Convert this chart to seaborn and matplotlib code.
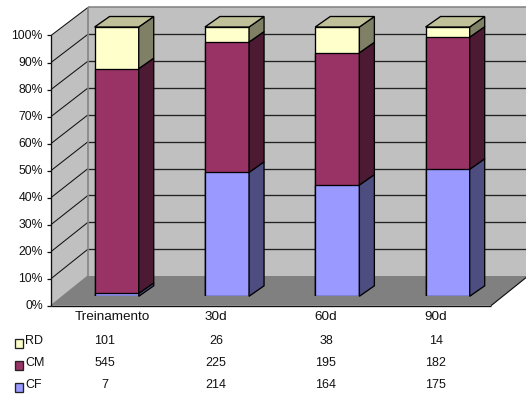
import matplotlib
matplotlib.use("Agg")
import matplotlib.pyplot as plt
from matplotlib.patches import Polygon, Rectangle
import numpy as np
import pandas as pd
import seaborn as sns

categories = ["Treinamento", "30d", "60d", "90d"]
series_names = ["RD", "CM", "CF"]
rd_values = [101, 26, 38, 14]
cm_values = [545, 225, 195, 182]
cf_values = [7, 214, 164, 175]
percent_ticks = [0, 10, 20, 30, 40, 50, 60, 70, 80, 90, 100]

face_colors = {"RD": "#FFFFCC", "CM": "#993366", "CF": "#9999FF"}
side_colors = {"RD": "#808066", "CM": "#4D1A33", "CF": "#4D4D80"}
top_color = "#C0C099"

W, H = 526, 394
sns.set_theme(style="white")
plt.rcParams["font.family"] = ["Liberation Sans", "DejaVu Sans"]

fig = plt.figure(figsize=(W / 100, H / 100), dpi=100, facecolor="white")
# The axes span the plane of the bars' front faces; everything else hangs off it.
ax = fig.add_axes([61.5 / W, 1 - 296.3 / H, 441.3 / W, 269.3 / H])

df = pd.DataFrame({"cat": categories, "RD": rd_values, "CM": cm_values, "CF": cf_values})
totals = df[series_names].sum(axis=1)
df["f_CF"] = df["CF"] / totals
df["f_CM"] = df["f_CF"] + df["CM"] / totals
df["f_RD"] = df["f_CM"] + df["RD"] / totals

# Cumulative bars drawn tallest first, so each stack reads bottom-up.
for name in series_names:
    sns.barplot(data=df, x="cat", y=f"f_{name}", order=categories, color=face_colors[name],
                saturation=1, width=0.4, edgecolor="black", linewidth=0.95, ax=ax, zorder=5)
ax.set_xlim(-0.5, 3.5)
ax.set_ylim(0, 1)
ax.axis("off")


def px(x, y):
    """Figure pixels (origin top-left) to data coordinates."""
    return ax.transData.inverted().transform((x, H - y))


def frame_poly(points, **kw):
    ax.add_patch(Polygon([px(*p) for p in points], closed=True, clip_on=False, **kw))


def frame_line(p0, p1, color="#111111", lw=0.8, z=2):
    a, b = px(*p0), px(*p1)
    ax.plot([a[0], b[0]], [a[1], b[1]], color=color, lw=lw, clip_on=False, zorder=z,
            solid_capstyle="butt")


# Frame geometry of the pseudo-3D box
x_front, x_back, x_right = 51, 88, 526
x_floor_right = 491
front_y = lambda v: 305.7 - 270.2 * v
back_y = lambda v: 276.0 - 268.6 * v

frame_poly([(x_back, back_y(1)), (x_right, back_y(1)), (x_right, back_y(0)), (x_back, back_y(0))],
           facecolor="#C0C0C0", edgecolor="none", zorder=1)
frame_poly([(x_front, front_y(1)), (x_back, back_y(1)), (x_back, back_y(0)), (x_front, front_y(0))],
           facecolor="#C0C0C0", edgecolor="none", zorder=1)
frame_poly([(x_front, front_y(0)), (x_floor_right, front_y(0)), (x_floor_right + 37, back_y(0)),
            (x_back, back_y(0))], facecolor="#808080", edgecolor="none", zorder=1)

for tick in percent_ticks[1:-1]:
    v = tick / 100
    frame_line((x_back, back_y(v)), (x_right, back_y(v)), color="#222222", lw=0.95)
for tick in percent_ticks[1:]:
    v = tick / 100
    frame_line((x_front, front_y(v)), (x_back, back_y(v)), color="#111111", lw=0.75)

frame_line((x_back, back_y(1)), (x_right, back_y(1)), color="#808080", lw=1.1)
frame_line((x_back, back_y(1)), (x_back, back_y(0)), color="#808080", lw=1.1)
frame_line((x_front, front_y(0)), (x_back, back_y(0)), color="#808080", lw=1.0)
frame_line((x_front, front_y(1)), (x_front, front_y(0)), lw=0.95, z=3)
frame_line((x_front, front_y(0)), (x_floor_right, front_y(0)), lw=0.95, z=3)
frame_line((x_floor_right, front_y(0)), (x_floor_right + 37, back_y(0)), lw=0.85, z=3)

for tick in percent_ticks:
    y = front_y(tick / 100)
    frame_line((47.5, y), (x_front, y), lw=0.9, z=3)
    fig.text(43 / W, 1 - (y + 0.3) / H, f"{tick}%", ha="right", va="center",
             fontsize=8.8, color="#111111")

# Side and top faces of each stack, offset by the box depth
dx = 15 / (441.3 / 4)
dy = 10.5 / 269.3
half = 0.2
for i in range(len(categories)):
    lower = 0.0
    for name in ["CF", "CM", "RD"]:
        upper = df[f"f_{name}"].iloc[i]
        ax.add_patch(Polygon([(i + half, lower), (i + half + dx, lower + dy),
                              (i + half + dx, upper + dy), (i + half, upper)],
                             closed=True, facecolor=side_colors[name], edgecolor="black",
                             linewidth=0.95, clip_on=False, zorder=6))
        lower = upper
    ax.add_patch(Polygon([(i - half, 1), (i + half, 1), (i + half + dx, 1 + dy), (i - half + dx, 1 + dy)],
                         closed=True, facecolor=top_color, edgecolor="black",
                         linewidth=0.95, clip_on=False, zorder=6))

# Category labels and the data table beneath the chart
label_x = [112, 216, 326, 436]
table_x = [105, 216, 326, 436]
for cx, cat in zip(label_x, categories):
    fig.text(cx / W, 1 - 316.5 / H, cat, ha="center", va="center", fontsize=9.7, color="#111111")

row_y = {"RD": 341, "CM": 363, "CF": 385}
for name in series_names:
    y = row_y[name]
    fig.patches.append(Rectangle((14.5 / W, 1 - (y + 6.5) / H), 8.5 / W, 8.5 / H,
                                 transform=fig.transFigure, facecolor=face_colors[name],
                                 edgecolor="#222222", linewidth=0.95))
    fig.text(25.5 / W, 1 - (y + 0.5) / H, name, ha="left", va="center", fontsize=9, color="#111111")
    for cx, value in zip(table_x, df[name]):
        fig.text(cx / W, 1 - y / H, str(value), ha="center", va="center", fontsize=9, color="#111111")

fig.savefig("out.png", dpi=100, facecolor="white")
